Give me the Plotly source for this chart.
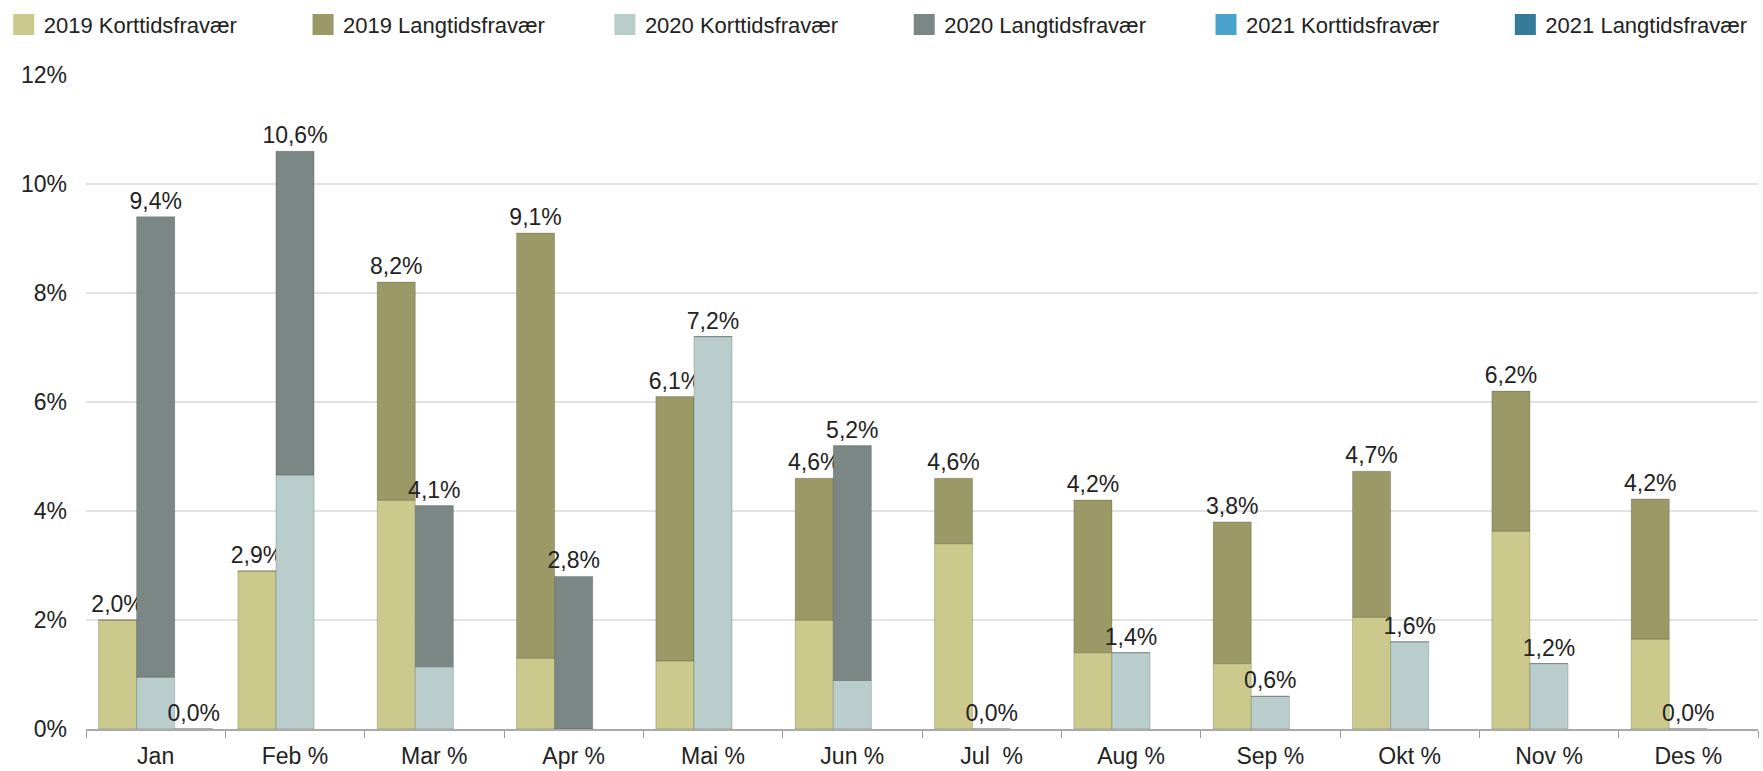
import plotly.graph_objects as go

months = ["Jan", "Feb", "Mar", "Apr", "Mai", "Jun", "Jul", "Aug", "Sep", "Okt", "Nov", "Des"]
tick_labels = ["Jan", "Feb %", "Mar %", "Apr %", "Mai %", "Jun %", "Jul\u00a0 %",
               "Aug %", "Sep %", "Okt %", "Nov %", "Des %"]
y_ticks = [0, 2, 4, 6, 8, 10, 12]
y_tick_labels = ["0%", "2%", "4%", "6%", "8%", "10%", "12%"]

kort_2019 = [2.0, 2.9, 4.2, 1.3, 1.25, 2.0, 3.4, 1.4, 1.2, 2.05, 3.63, 1.65]
lang_2019 = [0.0, 0.0, 4.0, 7.8, 4.85, 2.6, 1.2, 2.8, 2.6, 2.68, 2.57, 2.57]
kort_2020 = [0.95, 4.66, 1.14, 0.0, 7.2, 0.89, 0.0, 1.4, 0.6, 1.6, 1.2, 0.0]
lang_2020 = [8.45, 5.94, 2.96, 2.8, 0.0, 4.31, 0.0, 0.0, 0.0, 0.0, 0.0, 0.0]
kort_2021 = [0.0, None, None, None, None, None, None, None, None, None, None, None]
lang_2021 = [0.0, None, None, None, None, None, None, None, None, None, None, None]

years = ["2019", "2020", "2021"]
kort = {"2019": kort_2019, "2020": kort_2020, "2021": kort_2021}
lang = {"2019": lang_2019, "2020": lang_2020, "2021": lang_2021}
col_kort = {"2019": "#CBCA8C", "2020": "#BACDCD", "2021": "#4AA3CC"}
col_lang = {"2019": "#9B9966", "2020": "#7A8785", "2021": "#367A9A"}

FONT = "Liberation Sans, Arial, sans-serif"
TXT = "#222222"

fig = go.Figure()
for yr in years:
    k = kort[yr]
    l = lang[yr]
    fig.add_trace(go.Bar(
        x=months, y=k, offsetgroup=yr, name=f"{yr} Korttidsfravær",
        marker=dict(color=col_kort[yr], line=dict(color="rgba(0,0,0,0.18)", width=1)),
        textposition="none", showlegend=False,
    ))
    base = [kv if kv is not None else 0 for kv in k]
    labels = []
    for kv, lv in zip(k, l):
        if kv is None or lv is None:
            labels.append("")
        else:
            labels.append(f"{round(kv + lv, 1):.1f}".replace(".", ",") + "%")
    fig.add_trace(go.Bar(
        x=months, y=l, base=base, offsetgroup=yr, name=f"{yr} Langtidsfravær",
        marker=dict(color=col_lang[yr], line=dict(color="rgba(0,0,0,0.18)", width=1)),
        text=labels, textposition="outside", cliponaxis=False, constraintext="none",
        textfont=dict(size=23, color=TXT, family=FONT), showlegend=False,
    ))

# legend proxies
entries = []
for yr in years:
    entries.append((f"{yr} Korttidsfravær", col_kort[yr]))
    entries.append((f"{yr} Langtidsfravær", col_lang[yr]))
for i, (nm, c) in enumerate(entries):
    pad = "" if i == len(entries) - 1 else "\u00a0" * (10 if "Kort" in nm else 9)
    fig.add_trace(go.Scatter(
        x=[None], y=[None], mode="markers", name=nm + pad,
        marker=dict(symbol="square", size=16, color=c, line=dict(color=c, width=5)),
    ))

fig.update_layout(
    width=1763, height=771, autosize=False,
    margin=dict(l=86, r=5, t=75, b=42, autoexpand=False),
    paper_bgcolor="white", plot_bgcolor="white",
    barmode="group", bargap=0.18, bargroupgap=0.0,
    font=dict(family=FONT, size=23, color=TXT),
    legend=dict(orientation="h", xref="paper", yref="paper",
                x=-0.0492, y=1.109, xanchor="left", yanchor="top",
                font=dict(size=22, color=TXT, family=FONT),
                itemclick=False),
)
fig.update_xaxes(
    type="category", tickvals=months, ticktext=tick_labels,
    tickson="boundaries", ticks="outside", ticklen=7, tickcolor="#999999",
    showline=True, linecolor="#aaaaaa", linewidth=1.5, showgrid=False,
    tickfont=dict(size=23, color=TXT, family=FONT), ticklabelstandoff=6,
)
fig.update_yaxes(
    range=[0, 12], tickmode="array", tickvals=y_ticks, ticktext=y_tick_labels,
    showgrid=True, gridcolor="#e3e3e3", gridwidth=1.5, zeroline=False, showline=False,
    tickfont=dict(size=23, color=TXT, family=FONT), ticklabelstandoff=18,
)

fig.write_html("out.html", config={"displayModeBar": False},
               post_script="document.body.style.margin='0px';")
